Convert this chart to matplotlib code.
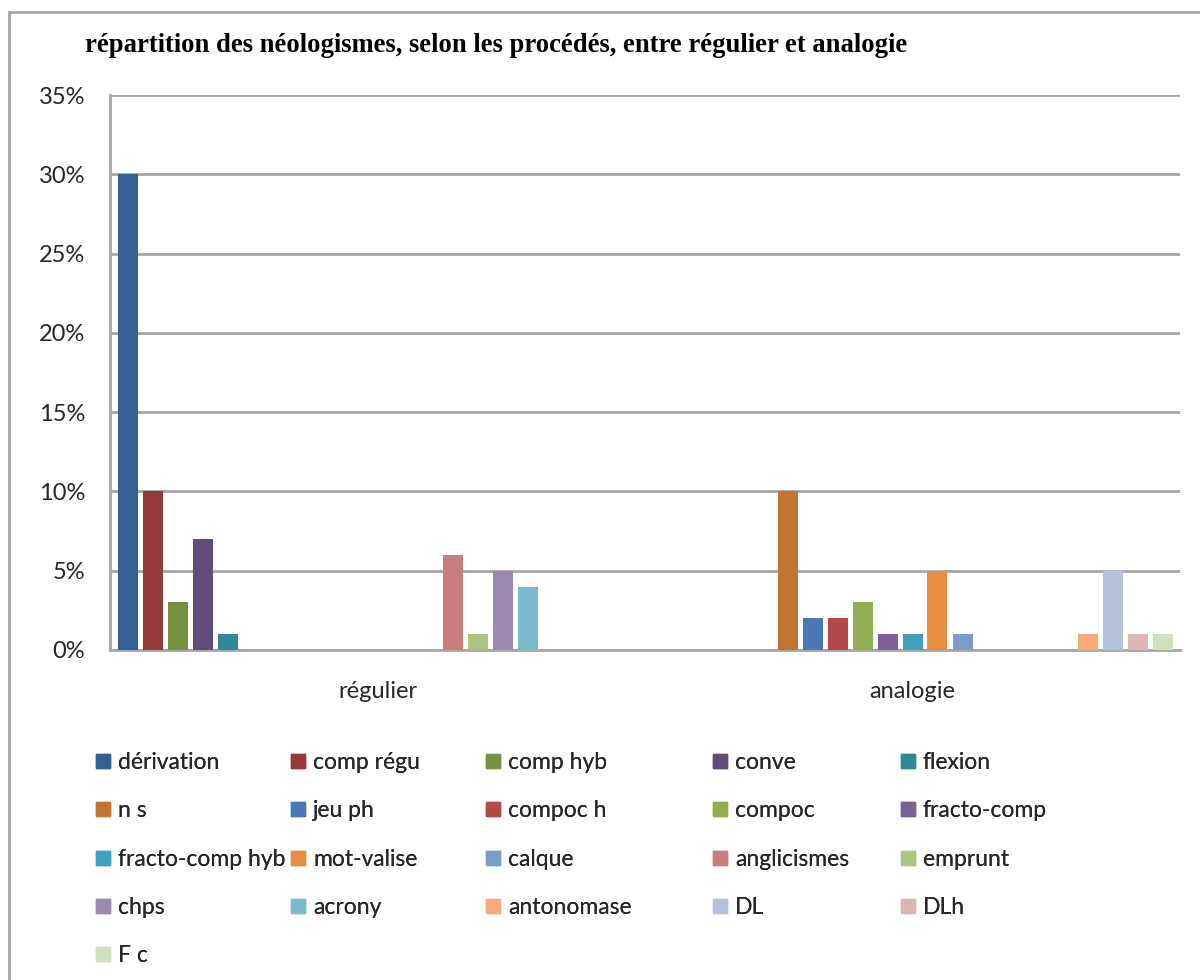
import numpy as np
import matplotlib.pyplot as plt
from matplotlib.patches import Rectangle
from matplotlib.lines import Line2D
from matplotlib.ticker import PercentFormatter

# data
categories = ['régulier', 'analogie']
series = ['dérivation', 'comp régu', 'comp hyb', 'conve', 'flexion',
          'n s', 'jeu ph', 'compoc h', 'compoc', 'fracto-comp',
          'fracto-comp hyb', 'mot-valise', 'calque', 'anglicismes', 'emprunt',
          'chps', 'acrony', 'antonomase', 'DL', 'DLh', 'F c']
regulier = [0.30, 0.10, 0.03, 0.07, 0.01,
            0, 0, 0, 0, 0,
            0, 0, 0, 0.06, 0.01,
            0.05, 0.04, 0, 0, 0, 0]
analogie = [0, 0, 0, 0, 0,
            0.10, 0.02, 0.02, 0.03, 0.01,
            0.01, 0.05, 0.01, 0, 0,
            0, 0, 0.01, 0.05, 0.01, 0.01]
colors = ['#376092', '#963A39', '#779143', '#604B7C', '#31879A',
          '#C27533', '#4A78B5', '#B34A48', '#92AE53', '#7A5F98',
          '#3EA0BB', '#E88E41', '#7C9BC8', '#C97D7C', '#ADC583',
          '#9B89B3', '#7BBACE', '#F8AB78', '#B4C3DC', '#DDB7B6', '#D0DFBC']

plt.rcParams['font.family'] = ['Lato', 'DejaVu Sans']

W, H = 1200, 980
fig = plt.figure(figsize=(12, 9.8), dpi=100)
ax = fig.add_axes([110 / W, 1 - 650 / H, 1070 / W, 555 / H])

# chart border
fig.patches.append(Rectangle((9 / W, -0.01), 1.0, 1 - 12 / H + 0.01,
                             transform=fig.transFigure, fill=False,
                             edgecolor='#A6A6A6', linewidth=2))

x = np.arange(len(categories))
pitch = 25 / 535
width = 20 / 535
n = len(series)
for i, name in enumerate(series):
    vals = [regulier[i], analogie[i]]
    ax.bar(x + (i - (n - 1) / 2) * pitch, vals, width=width,
           color=colors[i], label=name, zorder=3)

ax.set_xlim(-0.5, 1.5)
ax.set_ylim(0, 0.35)
ax.set_yticks(np.arange(0, 0.351, 0.05))
ax.yaxis.set_major_formatter(PercentFormatter(1.0, decimals=0))
ax.set_xticks(x)
ax.set_xticklabels(categories)
ax.tick_params(axis='y', length=0, pad=18, labelsize=17, labelcolor='#262626')
ax.tick_params(axis='x', length=0, pad=22, labelsize=17, labelcolor='#262626')
ax.grid(axis='y', color='#A6A6A6', linewidth=2, zorder=0)
for s in ['top', 'right']:
    ax.spines[s].set_visible(False)
ax.spines['left'].set_color('#A6A6A6')
ax.spines['left'].set_linewidth(2)
ax.spines['bottom'].set_color('#A6A6A6')
ax.spines['bottom'].set_linewidth(2)

fig.text(85 / W, 1 - 46 / H, 'répartition des néologismes, selon les procédés, entre régulier et analogie',
         family='Liberation Serif', weight='bold', fontsize=19.2, va='center', ha='left')

# legend filled row by row, one legend per column to place columns like the original
ncol = 5
col_x = [96, 291, 486, 713, 901]
for c in range(ncol):
    idx = list(range(c, n, ncol))
    handles = [Line2D([], [], marker='s', linestyle='none', markersize=10,
                      markerfacecolor=colors[j], markeredgecolor=colors[j]) for j in idx]
    labels = [series[j] for j in idx]
    leg = fig.legend(handles, labels, loc='upper left',
                     bbox_to_anchor=((col_x[c] - 9) / W, 1 - 743 / H),
                     frameon=False, fontsize=16.5, handlelength=0.6, handletextpad=0.35,
                     labelspacing=1.19, labelcolor='#262626', borderaxespad=0)
    fig.add_artist(leg)

fig.savefig('out.png', dpi=100)
